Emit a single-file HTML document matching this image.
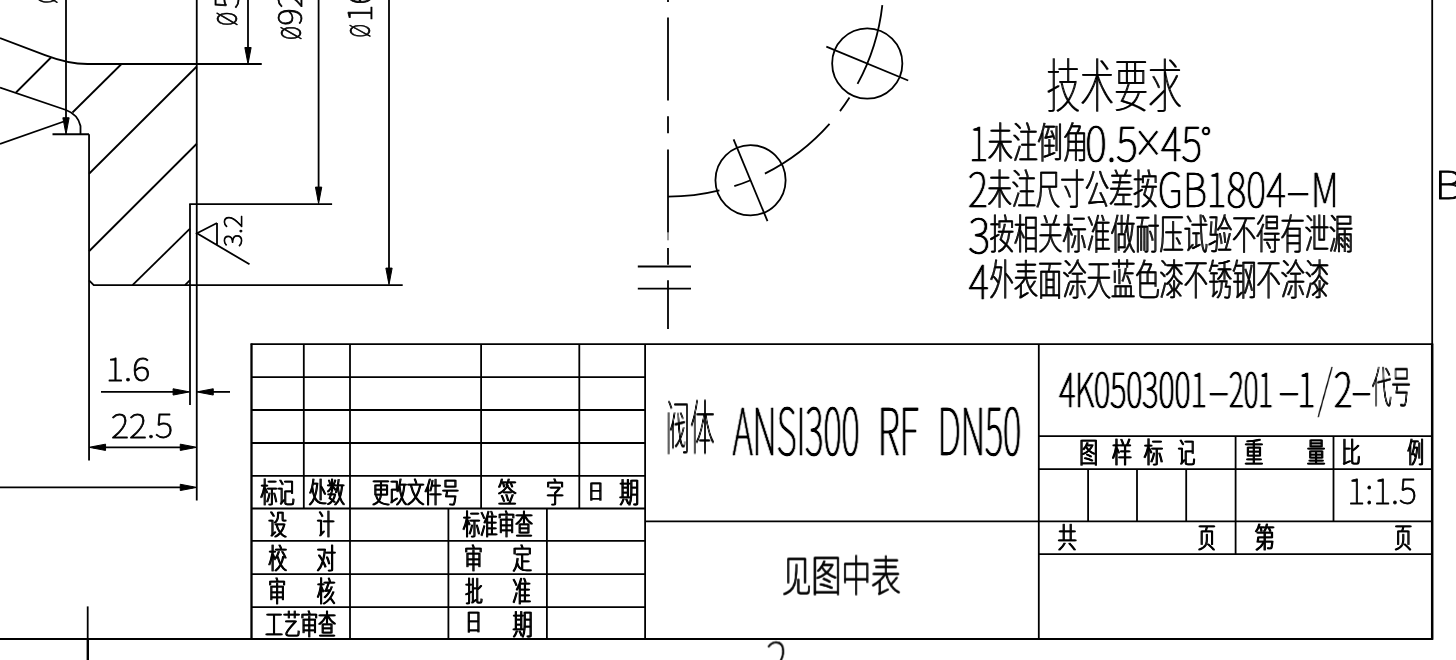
<!DOCTYPE html>
<html lang="zh"><head><meta charset="utf-8"><title>阀体 ANSI300 RF DN50</title>
<style>
html,body{margin:0;padding:0;background:#fff;overflow:hidden}
svg{display:block;will-change:transform}
.ln *{stroke:#000;stroke-linecap:butt}
text{fill:#000;stroke:#000;stroke-linejoin:round}
</style></head><body>
<svg width="1456" height="660" viewBox="0 0 1456 660">
<g class="ln" fill="none">
<line x1="196.75" y1="0" x2="196.75" y2="500.5" stroke-width="1.8"/>
<line x1="190" y1="204.1" x2="190" y2="405" stroke-width="1.8"/>
<line x1="89.05" y1="134.25" x2="89.05" y2="460.4" stroke-width="1.8"/>
<path d="M0,38 L45,55.1 Q68.4,64 87.5,64 L261.75,64" stroke-width="1.8" fill="none"/>
<line x1="189.2" y1="204.1" x2="332.1" y2="204.1" stroke-width="1.8"/>
<path d="M89.05,280.3 L93.75,285.2 L402.7,285.2" stroke-width="1.8" fill="none"/>
<line x1="52.5" y1="134.25" x2="89.05" y2="134.25" stroke-width="1.8"/>
<line x1="66" y1="0" x2="66" y2="130" stroke-width="1.8"/>
<polygon points="66.00,134.25 62.85,117.75 69.15,117.75" fill="#000" stroke="none"/>
<path d="M0,87.5 L66,110 Q78,114.5 80.5,126 L80.5,134.25" stroke-width="1.8" fill="none"/>
<line x1="0" y1="144" x2="66" y2="120.75" stroke-width="1.8"/>
<line x1="16" y1="92.5" x2="51" y2="57.5" stroke-width="1.8"/>
<line x1="72.5" y1="112.5" x2="121.5" y2="64" stroke-width="1.8"/>
<line x1="89.05" y1="173.75" x2="196.75" y2="66.5" stroke-width="1.8"/>
<line x1="89.05" y1="251.25" x2="196.75" y2="143.75" stroke-width="1.8"/>
<line x1="132.5" y1="285.2" x2="190" y2="228.6" stroke-width="1.8"/>
<line x1="185" y1="285.2" x2="190" y2="280.2" stroke-width="1.8"/>
<line x1="248" y1="0" x2="248" y2="60" stroke-width="1.8"/>
<polygon points="248.00,64.00 244.85,47.50 251.15,47.50" fill="#000" stroke="none"/>
<line x1="318.6" y1="0" x2="318.6" y2="200" stroke-width="1.8"/>
<polygon points="318.60,203.60 315.45,187.10 321.75,187.10" fill="#000" stroke="none"/>
<line x1="389" y1="0" x2="389" y2="281" stroke-width="1.8"/>
<polygon points="389.00,284.60 385.85,268.10 392.15,268.10" fill="#000" stroke="none"/>
<path d="M217,223 L197,233.3 L249.5,264.3 M217,223 L217,244.8" stroke-width="1.8" fill="none"/>
<line x1="101" y1="391.9" x2="186" y2="391.9" stroke-width="1.8"/>
<polygon points="189.60,391.90 173.10,395.05 173.10,388.75" fill="#000" stroke="none"/>
<line x1="200" y1="391.9" x2="230" y2="391.9" stroke-width="1.8"/>
<polygon points="196.75,391.90 213.25,388.75 213.25,395.05" fill="#000" stroke="none"/>
<line x1="93" y1="447.3" x2="193" y2="447.3" stroke-width="1.8"/>
<polygon points="89.05,447.30 105.55,444.15 105.55,450.45" fill="#000" stroke="none"/>
<polygon points="196.75,447.30 180.25,450.45 180.25,444.15" fill="#000" stroke="none"/>
<line x1="0" y1="487.4" x2="193" y2="487.4" stroke-width="1.8"/>
<polygon points="196.75,487.40 180.25,490.55 180.25,484.25" fill="#000" stroke="none"/>
<line x1="87.7" y1="606.4" x2="87.7" y2="639" stroke-width="1.8"/>
<line x1="87.8" y1="639" x2="87.8" y2="660" stroke-width="2.4"/>
<line x1="0" y1="639" x2="1432.9" y2="639" stroke-width="1.8"/>
<line x1="1432.2" y1="0" x2="1432.2" y2="345" stroke-width="1.8"/>
<line x1="1432.2" y1="343.4" x2="1432.2" y2="639.8" stroke-width="2.5"/>
<line x1="668" y1="0" x2="668" y2="2" stroke-width="1.8"/>
<line x1="668" y1="17.5" x2="668" y2="100.5" stroke-width="1.8"/>
<line x1="668" y1="116.25" x2="668" y2="133.25" stroke-width="1.8"/>
<line x1="668" y1="149.5" x2="668" y2="232.5" stroke-width="1.8"/>
<line x1="668" y1="248" x2="668" y2="264.7" stroke-width="1.8"/>
<line x1="668" y1="280.2" x2="668" y2="329" stroke-width="1.8"/>
<line x1="668" y1="232.5" x2="668" y2="240.3" stroke-width="0.8"/>
<line x1="637.8" y1="266.5" x2="691" y2="266.5" stroke-width="1.8"/>
<line x1="637.8" y1="288.6" x2="691" y2="288.6" stroke-width="1.8"/>
<path d="M882.33,5.04 A215.67,215.67 0 0 1 857.53,83.91" stroke-width="1.8" fill="none"/>
<path d="M849.49,97.51 A215.67,215.67 0 0 1 840.01,111.09" stroke-width="1.8" fill="none"/>
<path d="M829.53,123.91 A215.67,215.67 0 0 1 764.90,173.67" stroke-width="1.8" fill="none"/>
<path d="M750.53,180.25 A215.67,215.67 0 0 1 734.29,186.23" stroke-width="1.8" fill="none"/>
<path d="M719.44,190.44 A215.67,215.67 0 0 1 668.00,196.67" stroke-width="1.8" fill="none"/>
<circle cx="867.25" cy="63.53" r="35.1" stroke-width="1.8" fill="none"/>
<line x1="826.33" y1="46.58" x2="908.18" y2="80.49" stroke-width="1.8"/>
<circle cx="750.53" cy="180.25" r="35.1" stroke-width="1.8" fill="none"/>
<line x1="733.58" y1="139.33" x2="767.49" y2="221.18" stroke-width="1.8"/>
<line x1="250.7" y1="344.2" x2="1432" y2="344.2" stroke-width="1.8"/>
<line x1="251.5" y1="343.4" x2="251.5" y2="639.8" stroke-width="2.3"/>
<line x1="251.4" y1="377.2" x2="645.1" y2="377.2" stroke-width="1.8"/>
<line x1="251.4" y1="410" x2="645.1" y2="410" stroke-width="1.8"/>
<line x1="251.4" y1="443" x2="645.1" y2="443" stroke-width="1.8"/>
<line x1="251.4" y1="475.9" x2="645.1" y2="475.9" stroke-width="1.8"/>
<line x1="251.4" y1="508.5" x2="645.1" y2="508.5" stroke-width="1.8"/>
<line x1="251.4" y1="540.9" x2="645.1" y2="540.9" stroke-width="1.8"/>
<line x1="251.4" y1="574.1" x2="645.1" y2="574.1" stroke-width="1.8"/>
<line x1="251.4" y1="607.1" x2="645.1" y2="607.1" stroke-width="1.8"/>
<line x1="303.8" y1="344.2" x2="303.8" y2="508.5" stroke-width="1.8"/>
<line x1="350" y1="344.2" x2="350" y2="508.5" stroke-width="1.8"/>
<line x1="481.1" y1="344.2" x2="481.1" y2="508.5" stroke-width="1.8"/>
<line x1="579.3" y1="344.2" x2="579.3" y2="508.5" stroke-width="1.8"/>
<line x1="350" y1="508.5" x2="350" y2="639" stroke-width="1.8"/>
<line x1="448.4" y1="508.5" x2="448.4" y2="639" stroke-width="1.8"/>
<line x1="546.9" y1="508.5" x2="546.9" y2="639" stroke-width="1.8"/>
<line x1="645.1" y1="344.2" x2="645.1" y2="639" stroke-width="1.8"/>
<line x1="645.1" y1="521.4" x2="1432" y2="521.4" stroke-width="1.8"/>
<line x1="1038.8" y1="344.2" x2="1038.8" y2="639" stroke-width="1.8"/>
<line x1="1038.8" y1="436.2" x2="1432" y2="436.2" stroke-width="1.8"/>
<line x1="1038.8" y1="469.1" x2="1432" y2="469.1" stroke-width="1.8"/>
<line x1="1038.8" y1="554.2" x2="1432" y2="554.2" stroke-width="1.8"/>
<line x1="1088.1" y1="469.1" x2="1088.1" y2="521.2" stroke-width="1.8"/>
<line x1="1137" y1="469.1" x2="1137" y2="521.2" stroke-width="1.8"/>
<line x1="1186.2" y1="469.1" x2="1186.2" y2="521.2" stroke-width="1.8"/>
<line x1="1235.6" y1="436.2" x2="1235.6" y2="554.2" stroke-width="1.8"/>
<line x1="1333.5" y1="436.2" x2="1333.5" y2="521.2" stroke-width="1.8"/>
</g>
<defs><filter id="bx" filterUnits="userSpaceOnUse" x="0" y="0" width="1456" height="660"><feOffset dx="1" dy="0" result="o"/><feMerge><feMergeNode in="SourceGraphic"/><feMergeNode in="o"/></feMerge></filter><filter id="cx" filterUnits="userSpaceOnUse" x="640" y="340" width="800" height="130"><feConvolveMatrix order="3 1" kernelMatrix="0.3 1 0.3" divisor="1" edgeMode="none" preserveAlpha="false"/></filter><filter id="dx" filterUnits="userSpaceOnUse" x="960" y="110" width="400" height="200"><feConvolveMatrix order="3 1" kernelMatrix="0.18 1 0.18" divisor="1" edgeMode="none" preserveAlpha="false"/></filter></defs>
<g filter="url(#bx)">
<text font-size="58.26" font-family='"Liberation Sans","Noto Sans CJK SC",sans-serif' font-weight="100" stroke-width="0.2" transform="matrix(0.5808 0.0000 0.0000 1.0000 1046.01 107.14)">技术要求</text>
<text font-size="41.50" font-family='"Liberation Sans","Noto Sans CJK SC",sans-serif' font-weight="100" stroke-width="0.62" transform="matrix(0.6040 0.0000 0.0000 1.0000 987.25 157.77)">未注倒角</text>
<text font-size="41.50" font-family='"Liberation Sans","Noto Sans CJK SC",sans-serif' font-weight="100" stroke-width="0.62" transform="matrix(0.5863 0.0000 0.0000 1.0000 986.88 203.87)">未注尺寸公差按</text>
<text font-size="41.50" font-family='"Liberation Sans","Noto Sans CJK SC",sans-serif' font-weight="100" stroke-width="0.62" transform="matrix(0.5841 0.0000 0.0000 1.0000 989.33 249.47)">按相关标准做耐压试验不得有泄漏</text>
<text font-size="41.50" font-family='"Liberation Sans","Noto Sans CJK SC",sans-serif' font-weight="100" stroke-width="0.62" transform="matrix(0.5849 0.0000 0.0000 1.0000 989.09 295.07)">外表面涂天蓝色漆不锈钢不涂漆</text>
<text font-size="28.00" font-family='"Liberation Sans","Noto Sans CJK SC",sans-serif' font-weight="100" stroke-width="0.97" transform="matrix(0.6083 0.0000 0.0000 1.0000 260.09 503.42)">标记</text>
<text font-size="28.00" font-family='"Liberation Sans","Noto Sans CJK SC",sans-serif' font-weight="100" stroke-width="0.97" transform="matrix(0.6451 0.0000 0.0000 1.0000 308.30 503.42)">处数</text>
<text font-size="28.00" font-family='"Liberation Sans","Noto Sans CJK SC",sans-serif' font-weight="100" stroke-width="0.97" transform="matrix(0.6211 0.0000 0.0000 1.0000 371.76 503.42)">更改文件号</text>
<text font-size="28.00" font-family='"Liberation Sans","Noto Sans CJK SC",sans-serif' font-weight="100" stroke-width="0.97" transform="matrix(0.6627 0.0000 0.0000 1.0000 497.47 503.42)">签</text>
<text font-size="28.00" font-family='"Liberation Sans","Noto Sans CJK SC",sans-serif' font-weight="100" stroke-width="0.97" transform="matrix(0.6345 0.0000 0.0000 1.0000 545.66 503.42)">字</text>
<text font-size="20.72" font-family='"Liberation Sans","Noto Sans CJK SC",sans-serif' font-weight="100" stroke-width="1.0" transform="matrix(0.7515 0.0000 0.0000 1.0000 587.59 498.95)">日</text>
<text font-size="28.00" font-family='"Liberation Sans","Noto Sans CJK SC",sans-serif' font-weight="100" stroke-width="0.97" transform="matrix(0.7102 0.0000 0.0000 1.0000 618.81 503.42)">期</text>
<text font-size="28.00" font-family='"Liberation Sans","Noto Sans CJK SC",sans-serif' font-weight="100" stroke-width="0.97" transform="matrix(0.6627 0.0000 0.0000 1.0000 267.67 534.82)">设</text>
<text font-size="28.00" font-family='"Liberation Sans","Noto Sans CJK SC",sans-serif' font-weight="100" stroke-width="0.97" transform="matrix(0.6349 0.0000 0.0000 1.0000 316.21 534.82)">计</text>
<text font-size="28.00" font-family='"Liberation Sans","Noto Sans CJK SC",sans-serif' font-weight="100" stroke-width="0.97" transform="matrix(0.6259 0.0000 0.0000 1.0000 462.27 534.82)">标准审查</text>
<text font-size="28.00" font-family='"Liberation Sans","Noto Sans CJK SC",sans-serif' font-weight="100" stroke-width="0.97" transform="matrix(0.6746 0.0000 0.0000 1.0000 267.74 568.62)">校</text>
<text font-size="28.00" font-family='"Liberation Sans","Noto Sans CJK SC",sans-serif' font-weight="100" stroke-width="0.97" transform="matrix(0.6942 0.0000 0.0000 1.0000 315.93 568.62)">对</text>
<text font-size="28.00" font-family='"Liberation Sans","Noto Sans CJK SC",sans-serif' font-weight="100" stroke-width="0.97" transform="matrix(0.6577 0.0000 0.0000 1.0000 463.84 568.62)">审</text>
<text font-size="28.00" font-family='"Liberation Sans","Noto Sans CJK SC",sans-serif' font-weight="100" stroke-width="0.97" transform="matrix(0.6944 0.0000 0.0000 1.0000 512.03 568.62)">定</text>
<text font-size="28.00" font-family='"Liberation Sans","Noto Sans CJK SC",sans-serif' font-weight="100" stroke-width="0.97" transform="matrix(0.6359 0.0000 0.0000 1.0000 267.80 601.62)">审</text>
<text font-size="28.00" font-family='"Liberation Sans","Noto Sans CJK SC",sans-serif' font-weight="100" stroke-width="0.97" transform="matrix(0.6667 0.0000 0.0000 1.0000 316.17 601.62)">核</text>
<text font-size="28.00" font-family='"Liberation Sans","Noto Sans CJK SC",sans-serif' font-weight="100" stroke-width="0.97" transform="matrix(0.6240 0.0000 0.0000 1.0000 464.80 601.62)">批</text>
<text font-size="28.00" font-family='"Liberation Sans","Noto Sans CJK SC",sans-serif' font-weight="100" stroke-width="0.97" transform="matrix(0.6778 0.0000 0.0000 1.0000 511.86 601.62)">准</text>
<text font-size="28.00" font-family='"Liberation Sans","Noto Sans CJK SC",sans-serif' font-weight="100" stroke-width="0.97" transform="matrix(0.6289 0.0000 0.0000 1.0000 264.84 635.12)">工艺审查</text>
<text font-size="22.65" font-family='"Liberation Sans","Noto Sans CJK SC",sans-serif' font-weight="100" stroke-width="1.0" transform="matrix(0.7310 0.0000 0.0000 1.0000 464.79 629.91)">日</text>
<text font-size="28.00" font-family='"Liberation Sans","Noto Sans CJK SC",sans-serif' font-weight="100" stroke-width="0.97" transform="matrix(0.7184 0.0000 0.0000 1.0000 511.99 635.12)">期</text>
<text font-size="59.13" font-family='"Liberation Sans","Noto Sans CJK SC",sans-serif' font-weight="100" stroke-width="0.2" transform="matrix(0.4141 0.0000 0.0000 1.0000 665.01 449.37)">阀体</text>
<text font-size="42.83" font-family='"Liberation Sans","Noto Sans CJK SC",sans-serif' font-weight="100" stroke-width="0.59" transform="matrix(0.6933 0.0000 0.0000 1.0000 781.42 591.57)">见图中表</text>
<text font-size="43.67" font-family='"Liberation Sans","Noto Sans CJK SC",sans-serif' font-weight="100" stroke-width="0.56" transform="matrix(0.4472 0.0000 0.0000 1.0000 1371.31 402.81)">代号</text>
<text font-size="28.00" font-family='"Liberation Sans","Noto Sans CJK SC",sans-serif' font-weight="100" stroke-width="0.97" transform="matrix(0.6577 0.0000 0.0000 1.0000 1079.04 462.82)">图</text>
<text font-size="28.00" font-family='"Liberation Sans","Noto Sans CJK SC",sans-serif' font-weight="100" stroke-width="0.97" transform="matrix(0.7183 0.0000 0.0000 1.0000 1111.50 462.82)">样</text>
<text font-size="28.00" font-family='"Liberation Sans","Noto Sans CJK SC",sans-serif' font-weight="100" stroke-width="0.97" transform="matrix(0.6949 0.0000 0.0000 1.0000 1143.32 462.82)">标</text>
<text font-size="28.00" font-family='"Liberation Sans","Noto Sans CJK SC",sans-serif' font-weight="100" stroke-width="0.97" transform="matrix(0.6230 0.0000 0.0000 1.0000 1177.33 462.82)">记</text>
<text font-size="28.00" font-family='"Liberation Sans","Noto Sans CJK SC",sans-serif' font-weight="100" stroke-width="0.97" transform="matrix(0.6696 0.0000 0.0000 1.0000 1243.88 462.82)">重</text>
<text font-size="28.00" font-family='"Liberation Sans","Noto Sans CJK SC",sans-serif' font-weight="100" stroke-width="0.97" transform="matrix(0.6508 0.0000 0.0000 1.0000 1306.49 462.82)">量</text>
<text font-size="28.00" font-family='"Liberation Sans","Noto Sans CJK SC",sans-serif' font-weight="100" stroke-width="0.97" transform="matrix(0.6878 0.0000 0.0000 1.0000 1340.79 462.82)">比</text>
<text font-size="28.00" font-family='"Liberation Sans","Noto Sans CJK SC",sans-serif' font-weight="100" stroke-width="0.97" transform="matrix(0.5939 0.0000 0.0000 1.0000 1406.77 462.82)">例</text>
<text font-size="28.00" font-family='"Liberation Sans","Noto Sans CJK SC",sans-serif' font-weight="100" stroke-width="0.97" transform="matrix(0.6746 0.0000 0.0000 1.0000 1057.26 548.32)">共</text>
<text font-size="28.00" font-family='"Liberation Sans","Noto Sans CJK SC",sans-serif' font-weight="100" stroke-width="0.97" transform="matrix(0.6312 0.0000 0.0000 1.0000 1197.56 548.32)">页</text>
<text font-size="28.00" font-family='"Liberation Sans","Noto Sans CJK SC",sans-serif' font-weight="100" stroke-width="0.97" transform="matrix(0.7307 0.0000 0.0000 1.0000 1253.97 548.32)">第</text>
<text font-size="28.00" font-family='"Liberation Sans","Noto Sans CJK SC",sans-serif' font-weight="100" stroke-width="0.97" transform="matrix(0.6271 0.0000 0.0000 1.0000 1394.07 548.32)">页</text>
</g>
<g filter="url(#cx)">
<text font-size="64.93" font-family='"Noto Sans CJK SC","Liberation Sans",sans-serif' font-weight="100" stroke-width="0.5" transform="matrix(0.5345 0.0000 0.0000 1.0000 732.65 455.20)">ANSI300</text>
<text font-size="64.93" font-family='"Noto Sans CJK SC","Liberation Sans",sans-serif' font-weight="100" stroke-width="0.5" transform="matrix(0.5689 0.0000 0.0000 1.0000 877.64 455.20)">RF</text>
<text font-size="64.93" font-family='"Noto Sans CJK SC","Liberation Sans",sans-serif' font-weight="100" stroke-width="0.5" transform="matrix(0.5359 0.0000 0.0000 1.0000 937.67 455.20)">DN50</text>
<text font-size="47.40" font-family='"Noto Sans CJK SC","Liberation Sans",sans-serif' font-weight="100" stroke-width="0.6" transform="matrix(0.6523 0.0000 0.0000 1.0000 1059.18 407.10)">4K0503001</text>
<text font-size="47.40" font-family='"Noto Sans CJK SC","Liberation Sans",sans-serif' font-weight="100" stroke-width="0.6" transform="matrix(1.4505 0.0000 0.0000 1.0000 1207.55 407.10)">-</text>
<text font-size="47.40" font-family='"Noto Sans CJK SC","Liberation Sans",sans-serif' font-weight="100" stroke-width="0.6" transform="matrix(0.5954 0.0000 0.0000 1.0000 1228.97 407.10)">201</text>
<text font-size="47.40" font-family='"Noto Sans CJK SC","Liberation Sans",sans-serif' font-weight="100" stroke-width="0.6" transform="matrix(1.4505 0.0000 0.0000 1.0000 1277.65 407.10)">-</text>
<text font-size="47.40" font-family='"Noto Sans CJK SC","Liberation Sans",sans-serif' font-weight="100" stroke-width="0.6" transform="matrix(0.7200 0.0000 0.0000 1.0000 1297.43 407.10)">1</text>
<text font-size="47.40" font-family='"Noto Sans CJK SC","Liberation Sans",sans-serif' font-weight="100" stroke-width="0.6" transform="matrix(0.7409 0.0000 0.0000 1.0000 1333.90 407.10)">2</text>
<text font-size="47.40" font-family='"Noto Sans CJK SC","Liberation Sans",sans-serif' font-weight="100" stroke-width="0.6" transform="matrix(1.3978 0.0000 0.0000 1.0000 1350.55 407.10)">-</text>
</g>
<g filter="url(#dx)">
<text font-size="46.58" font-family='"Noto Sans CJK SC","Liberation Sans",sans-serif' font-weight="100" stroke-width="0.6" transform="matrix(0.8000 0.0000 0.0000 1.0000 968.85 161.30)">1</text>
<text font-size="46.58" font-family='"Noto Sans CJK SC","Liberation Sans",sans-serif' font-weight="100" stroke-width="0.6" transform="matrix(0.8845 0.0000 0.0000 1.0000 1085.24 161.30)">0.5</text>
<text font-size="37.30" font-family='"Noto Sans CJK SC","Liberation Sans",sans-serif' font-weight="100" stroke-width="0.8" transform="matrix(0.7783 0.0000 0.0000 1.0000 1133.78 156.74)">×</text>
<text font-size="46.58" font-family='"Noto Sans CJK SC","Liberation Sans",sans-serif' font-weight="100" stroke-width="0.6" transform="matrix(0.8455 0.0000 0.0000 1.0000 1161.01 161.30)">45</text>
<text font-size="29.62" font-family='"Noto Sans CJK SC","Liberation Sans",sans-serif' font-weight="100" stroke-width="0.8" transform="matrix(0.9567 0.0000 0.0000 1.0000 1201.28 149.81)">°</text>
<text font-size="46.58" font-family='"Noto Sans CJK SC","Liberation Sans",sans-serif' font-weight="100" stroke-width="0.6" transform="matrix(0.8189 0.0000 0.0000 1.0000 967.97 207.40)">2</text>
<text font-size="46.58" font-family='"Noto Sans CJK SC","Liberation Sans",sans-serif' font-weight="100" stroke-width="0.6" transform="matrix(0.8143 0.0000 0.0000 1.0000 1157.82 207.40)">GB1804</text>
<text font-size="46.58" font-family='"Noto Sans CJK SC","Liberation Sans",sans-serif' font-weight="100" stroke-width="0.6" transform="matrix(1.6998 0.0000 0.0000 1.0000 1285.33 207.40)">-</text>
<text font-size="46.58" font-family='"Noto Sans CJK SC","Liberation Sans",sans-serif' font-weight="100" stroke-width="0.6" transform="matrix(0.7690 0.0000 0.0000 1.0000 1311.06 207.40)">M</text>
<text font-size="46.58" font-family='"Noto Sans CJK SC","Liberation Sans",sans-serif' font-weight="100" stroke-width="0.6" transform="matrix(0.9038 0.0000 0.0000 1.0000 968.24 253.00)">3</text>
<text font-size="46.58" font-family='"Noto Sans CJK SC","Liberation Sans",sans-serif' font-weight="100" stroke-width="0.6" transform="matrix(0.8268 0.0000 0.0000 1.0000 968.73 298.60)">4</text>
</g>
<g>
<text font-size="37.54" font-family='"Noto Sans CJK SC","Liberation Sans",sans-serif' font-weight="100" stroke-width="0.8" transform="matrix(0.0000 -0.6659 1.0000 0.0000 57.25 4.05)">ø</text>
<text font-size="32.88" font-family='"Noto Sans CJK SC","Liberation Sans",sans-serif' font-weight="100" stroke-width="0.8" transform="matrix(0.0000 -1.0000 1.0000 0.0000 58.60 -10.01)">38</text>
<text font-size="37.72" font-family='"Noto Sans CJK SC","Liberation Sans",sans-serif' font-weight="100" stroke-width="0.8" transform="matrix(0.0000 -0.6683 1.0000 0.0000 237.15 26.16)">ø</text>
<text font-size="33.01" font-family='"Noto Sans CJK SC","Liberation Sans",sans-serif' font-weight="100" stroke-width="0.8" transform="matrix(0.0000 -1.0000 1.0000 0.0000 238.50 8.79)">50</text>
<text font-size="38.42" font-family='"Noto Sans CJK SC","Liberation Sans",sans-serif' font-weight="100" stroke-width="0.8" transform="matrix(0.0000 -0.6398 1.0000 0.0000 300.53 40.33)">ø</text>
<text font-size="33.56" font-family='"Noto Sans CJK SC","Liberation Sans",sans-serif' font-weight="100" stroke-width="0.8" transform="matrix(0.0000 -1.0000 1.0000 0.0000 301.90 25.68)">92.1</text>
<text font-size="37.54" font-family='"Noto Sans CJK SC","Liberation Sans",sans-serif' font-weight="100" stroke-width="0.8" transform="matrix(0.0000 -0.6326 1.0000 0.0000 370.35 37.79)">ø</text>
<text font-size="32.88" font-family='"Noto Sans CJK SC","Liberation Sans",sans-serif' font-weight="100" stroke-width="0.8" transform="matrix(0.0000 -1.0000 1.0000 0.0000 371.70 21.96)">165</text>
<text font-size="25.00" font-family='"Noto Sans CJK SC","Liberation Sans",sans-serif' font-weight="100" stroke-width="0.8" transform="matrix(0.0000 -1.0084 1.0000 0.0000 241.75 247.01)">3.2</text>
<text font-size="31.78" font-family='"Noto Sans CJK SC","Liberation Sans",sans-serif' font-weight="100" stroke-width="0.8" transform="matrix(1.0958 0.0000 0.0000 1.0000 105.87 381.48)">1.6</text>
<text font-size="32.47" font-family='"Noto Sans CJK SC","Liberation Sans",sans-serif' font-weight="100" stroke-width="0.8" transform="matrix(1.0672 0.0000 0.0000 1.0000 111.01 437.98)">22.5</text>
<text font-size="38.08" font-family='"Noto Sans CJK SC","Liberation Sans",sans-serif' font-weight="100" stroke-width="0.9" transform="matrix(1.2012 0.0000 0.0000 1.0000 1434.47 199.00)">B</text>
<text font-size="47.50" font-family='"Noto Sans CJK SC","Liberation Sans",sans-serif' font-weight="100" stroke-width="0.6" transform="matrix(0.8764 0.0000 0.0000 1.0000 765.93 676.50)">2</text>
<text font-size="52.40" font-family='"Noto Sans CJK SC","Liberation Sans",sans-serif' font-weight="100" stroke-width="0.05" transform="matrix(0.7584 0.0000 0.0000 1.0000 1317.10 407.87)">/</text>
<text font-size="34.08" font-family='"Noto Sans CJK SC","Liberation Sans",sans-serif' font-weight="100" stroke-width="0.8" transform="matrix(1.0081 0.0000 0.0000 1.0000 1347.31 504.46)">1:1.5</text>
</g>
</svg>
</body></html>
